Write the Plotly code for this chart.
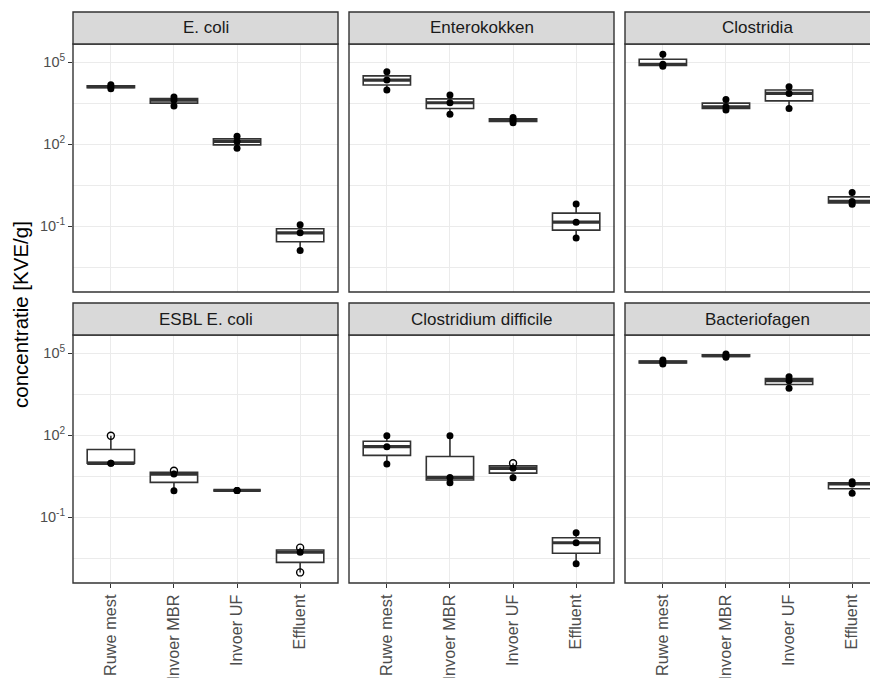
import numpy as np
import plotly.graph_objects as go

categories = ["Ruwe mest", "Invoer MBR", "Invoer UF", "Effluent"]
panel_titles = ["E. coli", "Enterokokken", "Clostridia",
                "ESBL E. coli", "Clostridium difficile", "Bacteriofagen"]

# concentrations [KVE/g], one list per category (3 samples each)
ecoli = [[15200, 12800, 10800], [5360, 4160, 2510], [199, 127, 72], [0.115, 0.058, 0.013]]
entero = [[45500, 22500, 9660], [6340, 3320, 1270], [962, 767, 612], [0.656, 0.143, 0.0372]]
clostridia = [[196000, 84500, 71300], [4400, 2370, 1790], [12800, 7300, 2060], [1.75, 0.82, 0.64]]
esbl = [[97, 9.5, 9.5], [5.1, 3.85, 0.95], [0.97, 0.97, 0.97], [0.0078, 0.0053, 0.00097]]
cdiff = [[97, 38.5, 8.9], [97, 2.9, 1.85], [9.5, 6.2, 2.8], [0.0275, 0.0118, 0.002]]
phage = [[57000, 48200, 40700], [94600, 82200, 71400], [14000, 10000, 5250], [2.02, 1.66, 0.755]]

# open (hollow) markers
ecoli_open = [[False] * 3] * 4
entero_open = [[False] * 3] * 4
clostridia_open = [[False] * 3] * 4
esbl_open = [[True, False, False], [True, False, False], [False, False, False], [True, False, True]]
cdiff_open = [[False] * 3, [False] * 3, [True, False, False], [False] * 3]
phage_open = [[False] * 3] * 4

y_tick_vals = [1e-1, 1e2, 1e5]
y_tick_text = ["10<sup>-1</sup>", "10<sup>2</sup>", "10<sup>5</sup>"]
y_minor_vals = [10 ** -2.5, 10 ** 0.5, 10 ** 3.5]

panel_data = [ecoli, entero, clostridia, esbl, cdiff, phage]
panel_open = [ecoli_open, entero_open, clostridia_open, esbl_open, cdiff_open, phage_open]

OFF = 8  # page body margin
W, H = 878 - OFF, 678 - OFF
col_px = [(73, 338), (349, 615), (625, 878)]
full_w = 265
row_plot_px = [(44, 292), (335, 583)]
row_strip_px = [(12, 44), (303, 335)]
yrange = [-3.40, 5.67]
box_w = 0.75
FONT = "Liberation Sans, Arial, sans-serif"
GRID = "#EBEBEB"
DARK = "#333333"


def fx_(px):
    return (px - OFF) / W


def fy_(px):
    return 1 - (px - OFF) / H


fig = go.Figure()
shapes = []
annotations = []
layout_axes = {}

for p in range(6):
    r, c = divmod(p, 3)
    idx = p + 1
    xa = "x" if idx == 1 else f"x{idx}"
    ya = "y" if idx == 1 else f"y{idx}"
    data = panel_data[p]
    opens = panel_open[p]
    pos = list(range(1, len(categories) + 1))

    q1s, meds, q3s, los, his = [], [], [], [], []
    for vals in data:
        lv = np.log10(np.array(vals, dtype=float))
        q1, med, q3 = np.percentile(lv, [25, 50, 75])
        iqr = q3 - q1
        lo = lv[lv >= q1 - 1.5 * iqr].min()
        hi = lv[lv <= q3 + 1.5 * iqr].max()
        q1s.append(10 ** q1); meds.append(10 ** med); q3s.append(10 ** q3)
        los.append(10 ** lo); his.append(10 ** hi)

    fig.add_trace(go.Box(
        x=pos, q1=q1s, median=meds, q3=q3s, lowerfence=los, upperfence=his,
        width=box_w, whiskerwidth=0, fillcolor="white",
        line=dict(color=DARK, width=1.6), boxpoints=False,
        xaxis=xa, yaxis=ya, showlegend=False, hoverinfo="skip"))

    mx, my = [], []
    for i, m in zip(pos, meds):
        mx += [i - box_w / 2, i + box_w / 2, None]
        my += [m, m, None]
    fig.add_trace(go.Scatter(x=mx, y=my, mode="lines",
                             line=dict(color=DARK, width=3.2),
                             xaxis=xa, yaxis=ya, showlegend=False, hoverinfo="skip"))

    fx, fy, ox, oy = [], [], [], []
    for i, vals, op in zip(pos, data, opens):
        for v, o in zip(vals, op):
            if o:
                ox.append(i); oy.append(v)
            else:
                fx.append(i); fy.append(v)
    fig.add_trace(go.Scatter(x=fx, y=fy, mode="markers",
                             marker=dict(color="black", size=7),
                             xaxis=xa, yaxis=ya, showlegend=False, hoverinfo="skip"))
    if ox:
        fig.add_trace(go.Scatter(x=ox, y=oy, mode="markers",
                                 marker=dict(symbol="circle-open", color="black", size=7,
                                             line=dict(width=1.4, color="black")),
                                 xaxis=xa, yaxis=ya, showlegend=False, hoverinfo="skip"))

    x0, x1 = col_px[c]
    ytop, ybot = row_plot_px[r]
    xmax = 0.4 + 4.2 * (x1 - x0) / full_w
    layout_axes["xaxis" if idx == 1 else f"xaxis{idx}"] = dict(
        domain=[fx_(x0), min(1.0, fx_(x1))], range=[0.4, xmax], anchor=ya,
        tickvals=pos, ticktext=categories,
        showticklabels=(r == 1), ticks="outside" if r == 1 else "",
        ticklen=4, tickwidth=1.3, tickcolor=DARK, tickangle=-90,
        tickfont=dict(size=16.3, color="#4D4D4D", family=FONT),
        showgrid=True, gridcolor=GRID, gridwidth=1.3,
        zeroline=False, showline=False, automargin=False, fixedrange=True)
    layout_axes["yaxis" if idx == 1 else f"yaxis{idx}"] = dict(
        domain=[fy_(ybot), fy_(ytop)], type="log", range=yrange, anchor=xa,
        tickmode="array", tickvals=y_tick_vals, ticktext=y_tick_text,
        showticklabels=(c == 0), ticks="outside" if c == 0 else "",
        ticklen=4, tickwidth=1.3, tickcolor=DARK,
        tickfont=dict(size=14.5, color="#4D4D4D", family=FONT),
        showgrid=True, gridcolor=GRID, gridwidth=1.3,
        minor=dict(tickmode="array", tickvals=y_minor_vals, showgrid=True,
                   gridcolor=GRID, gridwidth=0.7, ticks=""),
        zeroline=False, showline=False, automargin=False, fixedrange=True)

    # panel border
    x1b = x0 + full_w
    shapes.append(dict(type="rect", xref="paper", yref="paper",
                       x0=fx_(x0), x1=fx_(x1b), y0=fy_(ybot), y1=fy_(ytop),
                       line=dict(color=DARK, width=1.4), fillcolor="rgba(0,0,0,0)",
                       layer="above"))
    # strip
    s0, s1 = row_strip_px[r]
    shapes.append(dict(type="rect", xref="paper", yref="paper",
                       x0=fx_(x0), x1=fx_(x1b), y0=fy_(s1), y1=fy_(s0),
                       line=dict(color=DARK, width=1.4), fillcolor="#D9D9D9",
                       layer="above"))
    annotations.append(dict(text=panel_titles[p], xref="paper", yref="paper",
                            x=fx_(x0 + full_w / 2), y=fy_((s0 + s1) / 2),
                            xanchor="center", yanchor="middle", showarrow=False,
                            font=dict(size=17, color="#1A1A1A", family=FONT)))

annotations.append(dict(text="concentratie [KVE/g]", xref="paper", yref="paper",
                        x=fx_(20), y=fy_(315), xanchor="center", yanchor="middle",
                        textangle=-90, showarrow=False,
                        font=dict(size=20.5, color="black", family=FONT)))

fig.update_layout(width=W, height=H, margin=dict(l=0, r=0, t=0, b=0),
                  paper_bgcolor="white", plot_bgcolor="white",
                  font=dict(family=FONT), shapes=shapes, annotations=annotations,
                  showlegend=False, **layout_axes)

fig.write_html("out.html")
